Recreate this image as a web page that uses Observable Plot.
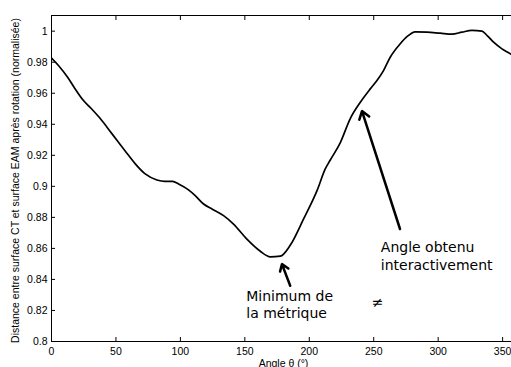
<!DOCTYPE html>
<html><head><meta charset="utf-8">
<script src="https://cdn.jsdelivr.net/npm/d3@7"></script>
<script src="https://cdn.jsdelivr.net/npm/@observablehq/plot@0.6"></script>
<style>
html,body{margin:0;padding:0;background:#fff;overflow:hidden;}
#chart svg{overflow:hidden;display:block;}
</style></head><body><div id="chart"></div>
<script>
// Angle θ (°) and normalised distance
const angles    = [0, 5.4, 12.5, 17.5, 24.8, 31, 37.5, 47, 57, 65, 72.7, 81.8, 88, 94, 98.6, 106.3, 111.5, 118, 124.5, 133.5, 141.2, 151.6, 162, 169.7, 177.5, 185.2, 195.6, 206, 212.4, 216.3, 224, 231.8, 239.6, 247.3, 252.5, 257.6, 262.8, 270.6, 276, 282.2, 291.3, 301.6, 310.7, 318.5, 326.2, 334, 338, 343, 349.5, 356.7, 360];
const distances = [0.9827, 0.9779, 0.9703, 0.9639, 0.9553, 0.9500, 0.9440, 0.9338, 0.9230, 0.9145, 0.9080, 0.9041, 0.9032, 0.9032, 0.9015, 0.8977, 0.8940, 0.8886, 0.8854, 0.8811, 0.8757, 0.8660, 0.8582, 0.8546, 0.8550, 0.8620, 0.8790, 0.8972, 0.9112, 0.9170, 0.9280, 0.9437, 0.9542, 0.9628, 0.9682, 0.9746, 0.9832, 0.9919, 0.9966, 0.9996, 0.9994, 0.9987, 0.9981, 0.9994, 1.0005, 1.0000, 0.9972, 0.9929, 0.9886, 0.9850, 0.9827];

const xTicks = [0, 50, 100, 150, 200, 250, 300, 350];
const yTicks = [0.8, 0.82, 0.84, 0.86, 0.88, 0.9, 0.92, 0.94, 0.96, 0.98, 1];
const yTickLabels = ["0.8", "0.82", "0.84", "0.86", "0.88", "0.9", "0.92", "0.94", "0.96", "0.98", "1"];
const xLabel = "Angle θ (°)";
const yLabel = "Distance entre surface CT et surface EAM après rotation (normalisée)";

// annotations (in data units)
const noteText  = ["Minimum de", "la métrique", "Angle obtenu", "interactivement"];
const noteAngle = [151.1, 151.1, 255.5, 255.5];
const noteValue = [0.8288, 0.8179, 0.8605, 0.8488];
const neqText  = ["≠"];
const neqAngle = [253.1];
const neqValue = [0.8252];
const arrowFromAngle = [185.2, 270.4];
const arrowFromValue = [0.8359, 0.8725];
const arrowToAngle   = [178.8, 240.9];
const arrowToValue   = [0.8499, 0.9485];

const curve = angles.map((a, i) => ({angle: a, value: distances[i]}));
const notes = noteText.map((t, i) => ({t, a: noteAngle[i], v: noteValue[i]}));
const neq = neqText.map((t, i) => ({t, a: neqAngle[i], v: neqValue[i]}));
const arrows = arrowFromAngle.map((a, i) => ({x1: a, y1: arrowFromValue[i], x2: arrowToAngle[i], y2: arrowToValue[i]}));

const annoFont = "'DejaVu Sans', sans-serif";

const chart = Plot.plot({
  width: 511, height: 367,
  marginLeft: 51, marginRight: -4, marginTop: 15, marginBottom: 26,
  style: {fontFamily: "'Liberation Sans', Arial, sans-serif", fontSize: "10.5px", background: "#fff", color: "#000"},
  x: {domain: [0, 360], label: null},
  y: {domain: [0.8, 1.0101], label: null},
  marks: [
    Plot.frame({stroke: "#000", strokeWidth: 1}),
    Plot.axisX({ticks: xTicks, tickSize: 0, tickPadding: 6.5, label: null, tickFormat: d => String(d)}),
    Plot.axisX({ticks: xTicks, tickSize: 4, dy: -4, label: null, tickFormat: () => ""}),
    Plot.axisX({anchor: "top", ticks: xTicks, tickSize: 4, dy: 4, label: null, tickFormat: () => ""}),
    Plot.axisY({ticks: yTicks, tickSize: 0, tickPadding: 4, label: null, tickFormat: d => yTickLabels[yTicks.indexOf(d)]}),
    Plot.axisY({ticks: yTicks, tickSize: 4, dx: 4, label: null, tickFormat: () => ""}),
    Plot.axisY({anchor: "right", ticks: yTicks, tickSize: 4, dx: -4, label: null, tickFormat: () => ""}),
    Plot.line(curve, {x: "angle", y: "value", stroke: "#000", strokeWidth: 1.7, curve: "monotone-x", clip: true}),
    Plot.arrow(arrows, {x1: "x1", y1: "y1", x2: "x2", y2: "y2", stroke: "#000", strokeWidth: 2.5, headLength: 5.4, headAngle: 70}),
    Plot.text(notes, {x: "a", y: "v", text: "t", textAnchor: "start", lineAnchor: "middle", fontFamily: annoFont, fontSize: 14, fill: "#000"}),
    Plot.text(neq, {x: "a", y: "v", text: "t", textAnchor: "middle", lineAnchor: "middle", fontFamily: annoFont, fontSize: 14, fill: "#000"}),
    Plot.text([xLabel], {frameAnchor: "bottom", dy: 25, lineAnchor: "bottom", text: d => d, fill: "#000"}),
    Plot.text([yLabel], {frameAnchor: "left", rotate: -90, dx: -39.5, dy: 2, textAnchor: "middle", lineAnchor: "top", fontSize: 10.5, text: d => d, fill: "#000"})
  ]
});
document.getElementById("chart").appendChild(chart);
</script></body></html>
